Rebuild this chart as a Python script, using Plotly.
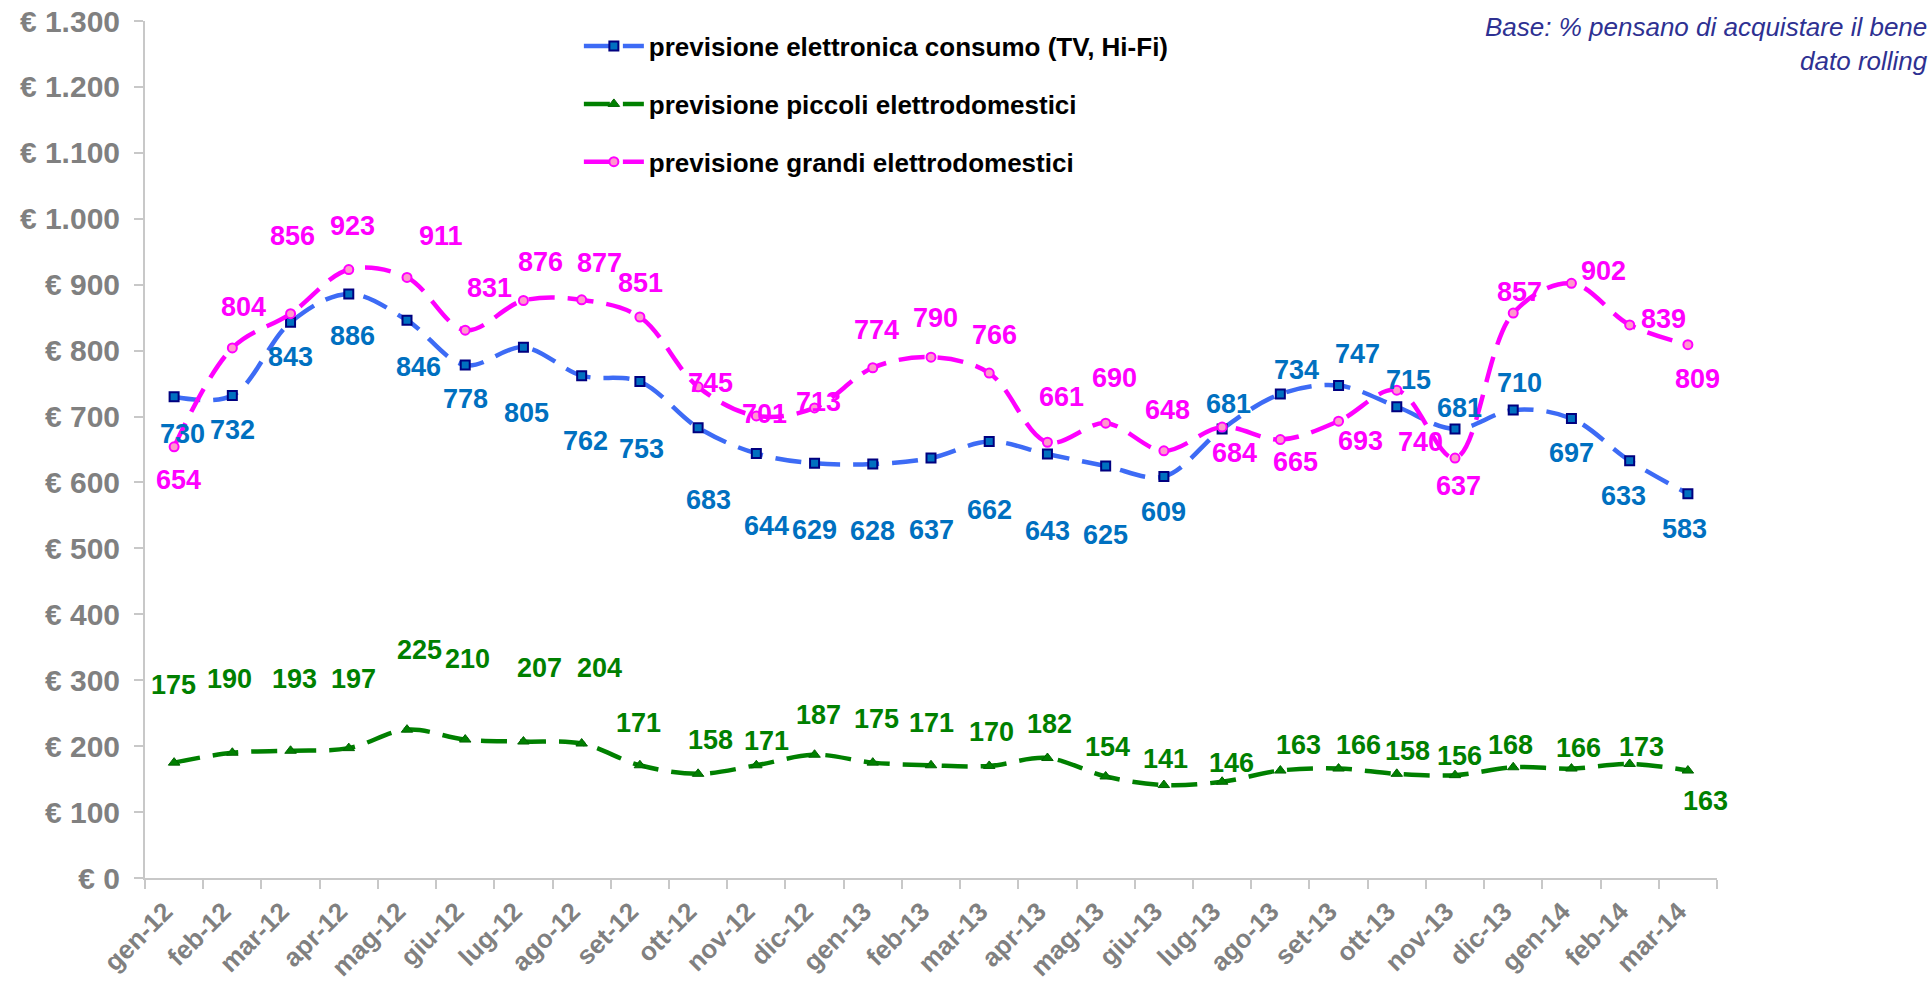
import plotly.graph_objects as go

months = ["gen-12", "feb-12", "mar-12", "apr-12", "mag-12", "giu-12", "lug-12", "ago-12", "set-12",
          "ott-12", "nov-12", "dic-12", "gen-13", "feb-13", "mar-13", "apr-13", "mag-13", "giu-13",
          "lug-13", "ago-13", "set-13", "ott-13", "nov-13", "dic-13", "gen-14", "feb-14", "mar-14"]

elettronica = [730, 732, 843, 886, 846, 778, 805, 762, 753, 683, 644, 629, 628, 637, 662, 643, 625, 609,
               681, 734, 747, 715, 681, 710, 697, 633, 583]
piccoli = [175, 190, 193, 197, 225, 210, 207, 204, 171, 158, 171, 187, 175, 171, 170, 182, 154, 141,
           146, 163, 166, 158, 156, 168, 166, 173, 163]
grandi = [654, 804, 856, 923, 911, 831, 876, 877, 851, 745, 701, 713, 774, 790, 766, 661, 690, 648,
          684, 665, 693, 740, 637, 857, 902, 839, 809]

y_tickvals = list(range(0, 1400, 100))
y_ticktext = ["€ 0", "€ 100", "€ 200", "€ 300", "€ 400", "€ 500", "€ 600", "€ 700", "€ 800",
              "€ 900", "€ 1.000", "€ 1.100", "€ 1.200", "€ 1.300"]

names = ["previsione elettronica consumo (TV, Hi-Fi)", "previsione piccoli elettrodomestici",
         "previsione grandi elettrodomestici"]

# data-label offsets in pixels (dx right, dy down) -- styling only
blue_dx = [8, 0, 0, 4, 11, 0, 3, 4, 2, 10, 10, 0, 0, 0, 0, 0, 0, 0, 6, 16, 19, 12, 4, 6, 0, -6, -3]
blue_dy = [37, 35, 35, 42, 47, 34, 66, 65, 67, 72, 73, 67, 67, 72, 68, 77, 69, 35,
           -25, -24, -32, -27, -21, -27, 34, 35, 35]
green_dx = [-1, -3, 4, 5, 12, 2, 16, 18, -1, 12, 10, 4, 4, 0, 2, 2, 2, 2, 9, 18, 20, 11, 4, -3, 7, 12, 18]
green_dy = [-78, -74, -72, -69, -80, -81, -74, -76, -42, -34, -24, -40, -44, -42,
            -34, -34, -29, -26, -19, -26, -24, -23, -19, -22, -21, -17, 30]
pink_dx = [4, 11, 2, 4, 34, 24, 17, 18, 1, 12, 8, 4, 4, 4, 5, 14, 9, 4, 12, 15, 22, 24, 3, 6, 32, 34, 10]
pink_dy = [33, -41, -78, -44, -41, -42, -39, -37, -34, -4, -2, -6, -38, -39, -38, -45, -45, -41,
           26, 22, 20, 52, 28, -21, -12, -6, 34]

FONT = "Liberation Sans, Arial, sans-serif"
DASH = "26px,13px"

fig = go.Figure()

series = [
    (elettronica, names[0], "#3D6BF5", "#0070C0", dict(symbol="square", size=9, color="#0070C0",
                                                        line=dict(color="#000080", width=2)), blue_dx, blue_dy),
    (piccoli, names[1], "#008000", "#008000", dict(symbol="triangle-up", size=10, color="#008000",
                                                    line=dict(color="#006400", width=1)), green_dx, green_dy),
    (grandi, names[2], "#FF00FF", "#FF00FF", dict(symbol="circle", size=9, color="#FF99CC",
                                                   line=dict(color="#FF00FF", width=2)), pink_dx, pink_dy),
]

for k, (vals, name, lc, tc, mk, dxs, dys) in enumerate(series):
    fig.add_trace(go.Scatter(
        x=months, y=vals, name=name, mode="lines+markers",
        line=dict(color=lc, width=4.5, dash=DASH, shape="spline", smoothing=1),
        marker=mk, legendgroup=f"g{k}", cliponaxis=False,
    ))
    for m, v, dx, dy in zip(months, vals, dxs, dys):
        fig.add_annotation(x=m, y=v, text=str(v), showarrow=False, xshift=dx, yshift=-dy,
                           font=dict(family=FONT, size=27, color=tc, weight="bold"),
                           xanchor="center", yanchor="middle")

fig.add_annotation(xref="paper", yref="paper", x=1.1355, y=1.013, xanchor="right", yanchor="top",
                   align="right", showarrow=False,
                   text="<i>Base: % pensano di acquistare il bene<br>dato rolling</i>",
                   font=dict(family=FONT, size=26, color="#2E3192"))

fig.update_layout(
    width=1930, height=982,
    margin=dict(l=145, r=213, t=21, b=104, autoexpand=False),
    plot_bgcolor="white", paper_bgcolor="white",
    showlegend=True,
    legend=dict(x=0.276, y=0.998, xanchor="left", yanchor="top", traceorder="grouped",
                tracegroupgap=21, font=dict(family=FONT, size=26, color="black", weight="bold"),
                bgcolor="rgba(0,0,0,0)", itemwidth=60),
    font=dict(family=FONT),
)

fig.update_xaxes(type="category", range=[-0.5, 26.5], showgrid=False, showline=True, automargin=False,
                 linecolor="#C8C8C8", linewidth=2, ticks="outside", tickson="boundaries",
                 ticklen=9, tickcolor="#C8C8C8", tickwidth=2, tickangle=-45,
                 ticklabelstandoff=6, ticklabelshift=-9,
                 tickfont=dict(family=FONT, size=26, color="#808080", weight="bold"))
fig.update_yaxes(range=[0, 1300], tickvals=y_tickvals, ticktext=y_ticktext, showgrid=False,
                 zeroline=False, showline=True, automargin=False,
                 linecolor="#C8C8C8", linewidth=2, ticks="outside",
                 ticklen=9, tickcolor="#C8C8C8", tickwidth=2, ticklabelstandoff=8,
                 tickfont=dict(family=FONT, size=30, color="#808080", weight="bold"))

fig.write_html("out.html", config={"displayModeBar": False},
               post_script="document.body.style.margin='0px';")
